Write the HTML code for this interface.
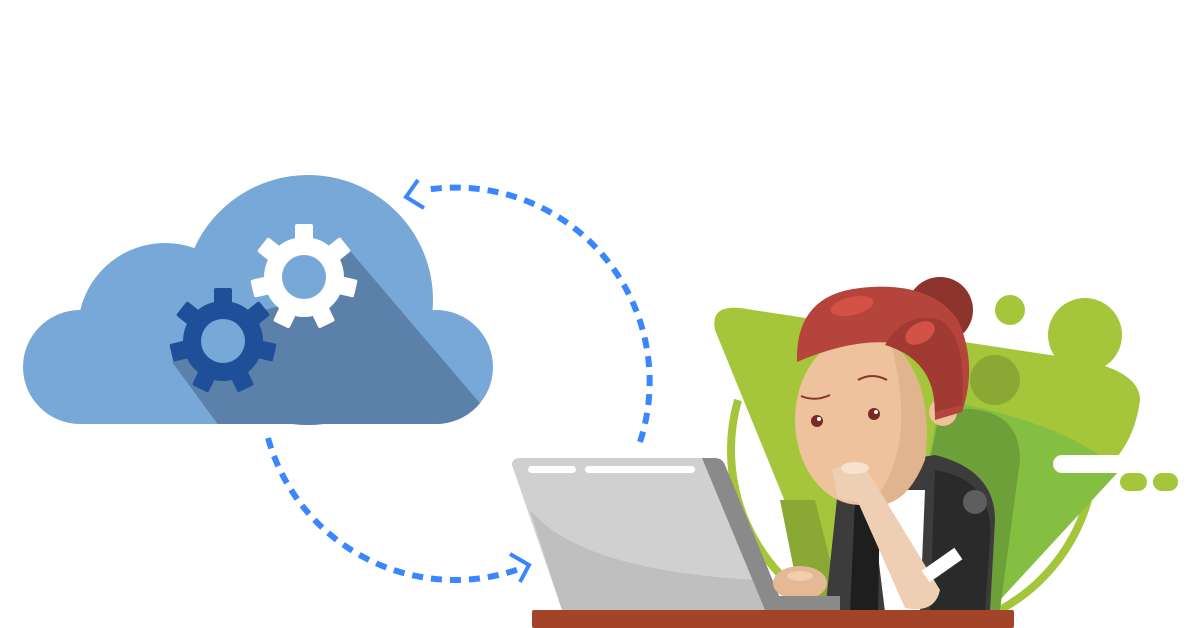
<!DOCTYPE html>
<html><head><meta charset="utf-8"><style>html,body{margin:0;padding:0;background:#fff}svg{display:block}</style></head>
<body>
<svg width="1200" height="628" viewBox="0 0 1200 628" xmlns="http://www.w3.org/2000/svg">
<defs>
<clipPath id="cc">
<circle cx="165" cy="330" r="87"/><circle cx="308" cy="300" r="125"/><circle cx="80" cy="367" r="57"/><circle cx="436" cy="367" r="57"/><rect x="80" y="320" width="356" height="104"/>
</clipPath>
</defs>
<g clip-path="url(#cc)">
<rect x="0" y="150" width="520" height="280" fill="#77a8d8"/>
<polygon points="345,245 490,415 480,430 222,430 172,362 230,320 300,300" fill="#5b81ab"/>
</g>
<g fill="#fff" transform="translate(304,277)">
<circle r="40"/>
<g id="t1"><rect x="-9" y="-53" width="18" height="18" rx="2"/></g>
<use href="#t1" transform="rotate(51.4)"/><use href="#t1" transform="rotate(102.8)"/><use href="#t1" transform="rotate(154.2)"/><use href="#t1" transform="rotate(205.6)"/><use href="#t1" transform="rotate(257)"/><use href="#t1" transform="rotate(308.4)"/>
<circle r="22" fill="#77a8d8"/>
</g>
<g fill="#1f4f99" transform="translate(223,341)">
<circle r="40"/>
<g id="t2"><rect x="-9" y="-53" width="18" height="18" rx="2"/></g>
<use href="#t2" transform="rotate(51.4)"/><use href="#t2" transform="rotate(102.8)"/><use href="#t2" transform="rotate(154.2)"/><use href="#t2" transform="rotate(205.6)"/><use href="#t2" transform="rotate(257)"/><use href="#t2" transform="rotate(308.4)"/>
<circle r="22" fill="#77a8d8"/>
</g>
<g fill="none" stroke="#3a86ff" stroke-width="6">
<path d="M640,442 A194,194 0 0 0 425,190" stroke-dasharray="11 8"/>
<path d="M268,438 A194,194 0 0 0 522,568" stroke-dasharray="11 8"/>
<path d="M418,180 L406,197 L424,208" stroke-width="4"/>
<path d="M510,554 L529,565 L520,582" stroke-width="4"/>
</g>
<path d="M738,400 A178,178 0 0 0 1088,500" fill="none" stroke="#a5c63b" stroke-width="8"/>
<path d="M715,330 Q710,305 740,308 L1050,355 Q1140,365 1140,400 Q1135,440 1110,465 L960,612 L830,612 Z" fill="#a5c63b"/>
<circle cx="1010" cy="310" r="15" fill="#a5c63b"/>
<circle cx="1085" cy="335" r="37" fill="#a5c63b"/>
<path d="M940,400 Q1060,420 1120,470 L1000,600 L900,610 Z" fill="#84bf42"/>
<circle cx="995" cy="380" r="25" fill="#8aa834"/>
<path d="M940,410 Q1020,400 1020,460 L1000,610 L900,610 Z" fill="#6ea03a"/>
<path d="M780,500 L815,500 L840,600 L800,600 Z" fill="#8aa834"/>
<rect x="1120" y="473" width="27" height="18" rx="9" fill="#a5c63b"/>
<rect x="1153" y="473" width="25" height="18" rx="9" fill="#a5c63b"/>
<rect x="1053" y="455" width="95" height="18" rx="9" fill="#fff"/>
<path d="M840,470 L935,455 Q995,470 995,520 L990,612 L825,612 Z" fill="#3c3c3c"/>
<path d="M870,490 L925,490 L920,612 L885,612 Z" fill="#fff"/>
<path d="M855,500 L880,500 L878,612 L850,612 Z" fill="#1e1e1e"/>
<path d="M935,470 Q995,480 990,540 L985,612 L930,612 Z" fill="#2a2a2a"/>
<circle cx="975" cy="502" r="12" fill="#5e5e5e"/>
<ellipse cx="860" cy="420" rx="65" ry="85" fill="#edc29c"/>
<path d="M890,340 Q935,380 925,460 Q905,510 870,505 Q920,450 890,340 Z" fill="#e0b48c"/>
<circle cx="943" cy="412" r="14" fill="#edc29c"/>
<circle cx="940" cy="310" r="33" fill="#8c332b"/>
<path d="M797,362 Q795,295 860,288 Q930,280 958,320 Q978,365 962,412 L935,420 Q935,360 905,345 Q860,335 797,362 Z" fill="#b5443c"/>
<path d="M885,345 Q905,310 940,320 Q967,335 962,405 L935,412 Q935,360 885,345 Z" fill="#a13a33"/>
<ellipse cx="852" cy="306" rx="22" ry="9" fill="#d35146" transform="rotate(-12 852 306)"/>
<ellipse cx="920" cy="333" rx="16" ry="10" fill="#d35146" transform="rotate(-30 920 333)"/>
<circle cx="817" cy="421" r="6" fill="#7a2a26"/><circle cx="874" cy="414" r="6" fill="#7a2a26"/>
<circle cx="819" cy="419" r="2" fill="#fff"/><circle cx="876" cy="412" r="2" fill="#fff"/>
<path d="M801,396 Q815,402 830,395" stroke="#8c332b" stroke-width="2" fill="none"/>
<path d="M858,380 Q872,372 887,380" stroke="#8c332b" stroke-width="2" fill="none"/>
<path d="M832,470 Q860,458 872,478 L940,590 Q935,614 905,608 L858,502 L838,498 Z" fill="#efcfb4"/>
<ellipse cx="855" cy="468" rx="14" ry="6" fill="#f7e2d0"/>
<rect x="922" y="558" width="40" height="14" fill="#fff" transform="rotate(-35 942 565)"/>
<path d="M512,465 Q512,458 520,458 L712,458 L765,600 L562,610 Z" fill="#d0d0d0"/>
<path d="M530,510 Q580,570 755,580 L770,610 L562,610 Z" fill="#bfbfbf"/>
<path d="M702,458 L715,458 Q722,458 725,465 L785,610 L765,610 Z" fill="#8a8a8a"/>
<rect x="528" y="466" width="48" height="7" rx="3.5" fill="#fff"/>
<rect x="585" y="466" width="110" height="7" rx="3.5" fill="#fff"/>
<ellipse cx="800" cy="583" rx="27" ry="17" fill="#e5b896"/>
<ellipse cx="800" cy="576" rx="13" ry="5" fill="#f0cfb0"/>
<rect x="770" y="596" width="70" height="14" fill="#8a8a8a"/>
<rect x="532" y="610" width="482" height="18" rx="2" fill="#a3432a"/>
</svg>
</body></html>
